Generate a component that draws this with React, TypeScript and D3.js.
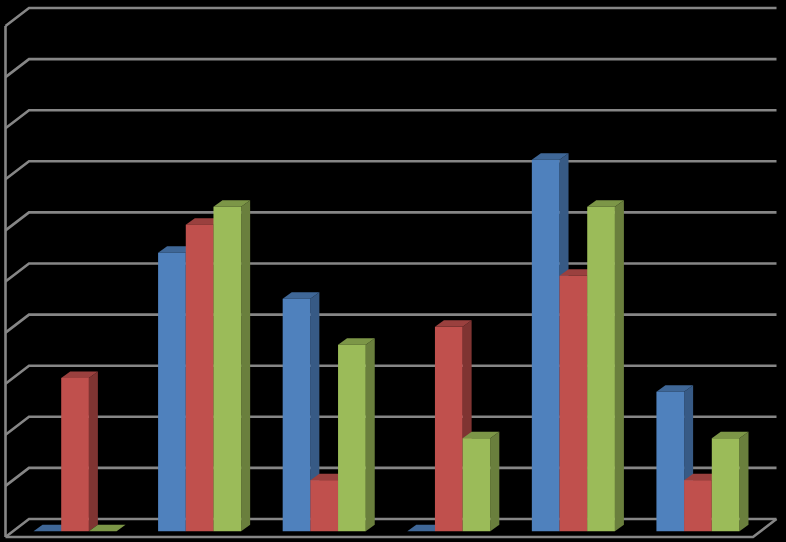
import React from "react";
import * as d3 from "d3";

const categories = ["A", "B", "C", "D", "E", "F"];
const seriesNames = ["Series 1", "Series 2", "Series 3"];
const series1 = [0, 5.45, 4.55, 0, 7.27, 2.73];
const series2 = [3, 6, 1, 4, 5, 1];
const series3 = [0, 6.35, 3.65, 1.82, 6.35, 1.82];
const allSeries = [series1, series2, series3];
const frontColors = ["#4F81BD", "#C0504D", "#9BBB59"];
const topColors = ["#3F6797", "#9A403E", "#7C9647"];
const sideColors = ["#375A85", "#7F3432", "#6A7F3D"];
const yTicks = d3.range(0, 11);

const W = 786;
const H = 542;
const frontLeft = 5.5;
const frontRight = 753;
const frontBottom = 537;
const frontTop = 26;
const floorDx = 23.5;
const floorDy = 18;
const barDx = 9;
const barDy = 6.5;
const gridColor = "#868686";

const offX = (floorDx - barDx) / 2;
const offY = (floorDy - barDy) / 2;

const x0 = d3.scaleBand<string>().domain(categories).range([frontLeft, frontRight]).paddingInner(1 / 3).paddingOuter(1 / 6);
const x1 = d3.scaleBand<string>().domain(seriesNames).range([0, x0.bandwidth()]);
const y = d3.scaleLinear().domain([0, 10]).range([frontBottom, frontTop]);

const poly = (pts: [number, number][]) => pts.map((p) => p.join(",")).join(" ");

export default function App() {
  return (
    <svg
      width={W}
      height={H}
      viewBox={`0 0 ${W} ${H}`}
      style={{ position: "fixed", left: 0, top: 0, display: "block", background: "#000" }}
    >
      <rect width={W} height={H} fill="#000" />
      <g fill="none" stroke={gridColor} strokeWidth={2.6}>
        {yTicks.map((t) => {
          const yy = y(t);
          return (
            <polyline
              key={t}
              points={poly([
                [frontLeft, yy],
                [frontLeft + floorDx, yy - floorDy],
                [frontLeft + floorDx + (frontRight - frontLeft), yy - floorDy],
              ])}
            />
          );
        })}
        <line x1={frontLeft} y1={y(0)} x2={frontLeft} y2={y(10)} />
        <polyline
          points={poly([
            [frontLeft, y(0)],
            [frontRight, y(0)],
            [frontRight + floorDx, y(0) - floorDy],
          ])}
        />
      </g>
      {categories.map((c, ci) => (
        <g key={c}>
          {seriesNames.map((s, si) => {
            const left = (x0(c) as number) + (x1(s) as number) + offX;
            const right = left + x1.bandwidth();
            const bottom = y(0) - offY;
            const top = y(allSeries[si][ci]) - offY;
            return (
              <g key={s}>
                <polygon
                  fill={sideColors[si]}
                  points={poly([
                    [right, top],
                    [right + barDx, top - barDy],
                    [right + barDx, bottom - barDy],
                    [right, bottom],
                  ])}
                />
                <polygon
                  fill={topColors[si]}
                  points={poly([
                    [left, top],
                    [left + barDx, top - barDy],
                    [right + barDx, top - barDy],
                    [right, top],
                  ])}
                />
                <rect x={left} y={top} width={right - left} height={bottom - top} fill={frontColors[si]} />
              </g>
            );
          })}
        </g>
      ))}
    </svg>
  );
}
